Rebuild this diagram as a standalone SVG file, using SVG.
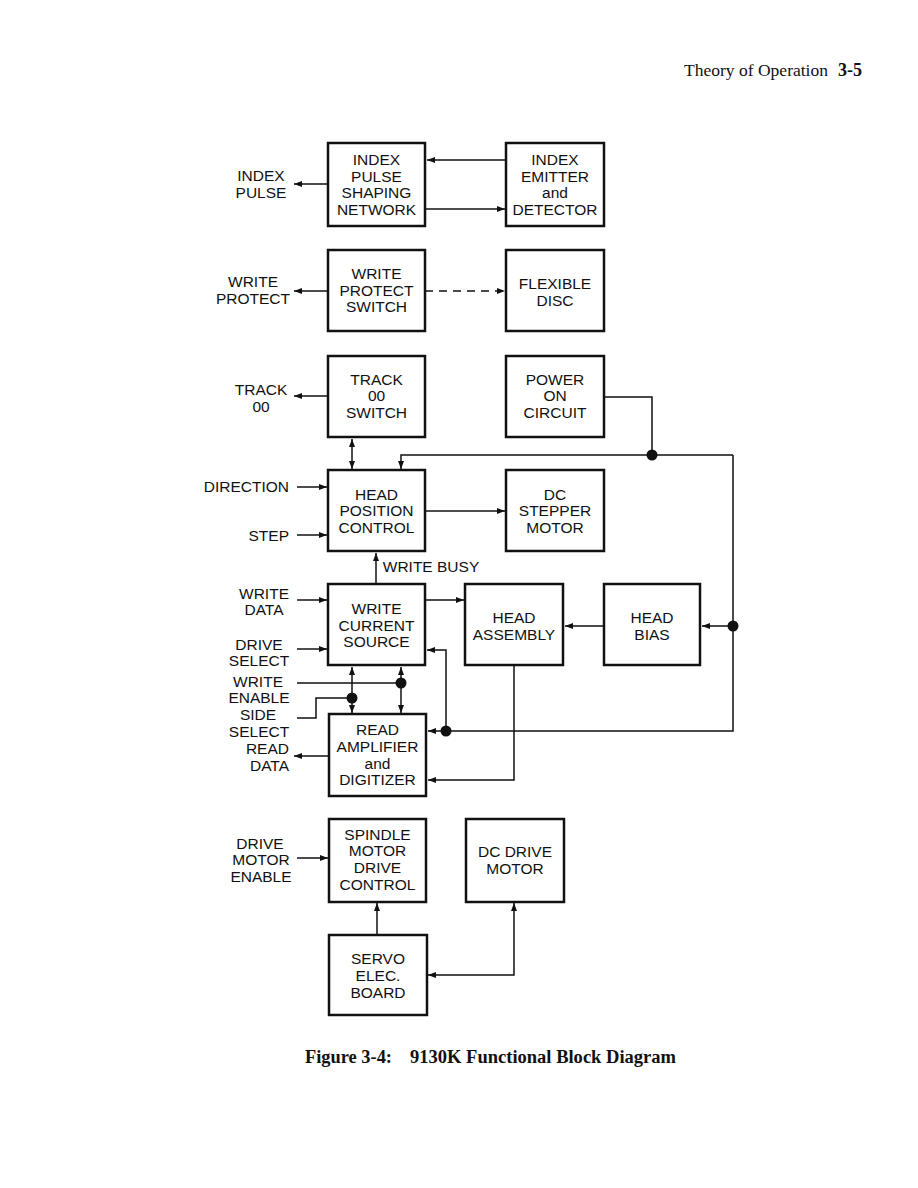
<svg xmlns="http://www.w3.org/2000/svg" width="918" height="1188" viewBox="0 0 918 1188">
<style>
.box{fill:#fff;stroke:#111;stroke-width:2.5}
.t{font-family:"Liberation Sans",Arial,sans-serif;font-size:15.5px;fill:#111;text-anchor:middle}
.lbl{font-family:"Liberation Sans",Arial,sans-serif;font-size:15.5px;fill:#111;text-anchor:middle}
.lr{font-family:"Liberation Sans",Arial,sans-serif;font-size:15.5px;fill:#111;text-anchor:end}
.c{fill:none;stroke:#111;stroke-width:1.5}
.a{marker-end:url(#ah)}
.b{marker-start:url(#ah);marker-end:url(#ah)}
.dot{fill:#111}
</style>
<defs>
<marker id="ah" markerUnits="userSpaceOnUse" markerWidth="9" markerHeight="6" refX="8" refY="3" orient="auto-start-reverse">
<path d="M0,0 L8,3 L0,6 z" fill="#111"/>
</marker>
</defs>
<rect width="918" height="1188" fill="#fff"/>
<g id="header">
<text x="684" y="76" font-family="Liberation Serif,serif" font-size="17" fill="#111" textLength="144" lengthAdjust="spacingAndGlyphs">Theory of Operation</text>
<text x="838" y="76" font-family="Liberation Serif,serif" font-size="18" font-weight="bold" fill="#111">3-5</text>
</g>
<g id="connectors">
<path class="c a" d="M506,160 H427"/>
<path class="c a" d="M425,209 H505"/>
<path class="c a" d="M328,184 H294"/>
<path class="c a" d="M328,291 H294"/>
<path class="c a" d="M425,291 H505" stroke-dasharray="8,6"/>
<path class="c a" d="M328,396 H294"/>
<path class="c b" d="M352,439 V469"/>
<path class="c" d="M604,397 H652 V455"/>
<path class="c a" d="M733,455 H401 V469"/>
<path class="c a" d="M733,455 V731 H428"/>
<path class="c a" d="M733,626 H702"/>
<path class="c a" d="M604,626 H565"/>
<path class="c a" d="M297,487 H327"/>
<path class="c a" d="M297,535 H327"/>
<path class="c a" d="M425,511 H505"/>
<path class="c a" d="M376,584 V553"/>
<path class="c a" d="M297,600 H327"/>
<path class="c a" d="M297,649 H327"/>
<path class="c a" d="M425,600 H464"/>
<path class="c a" d="M446,731 V650 H427"/>
<path class="c a" d="M514,665 V780 H428"/>
<path class="c" d="M297,683 H401"/>
<path class="c b" d="M401,667 V713"/>
<path class="c" d="M297,718 H316 V698 H352"/>
<path class="c b" d="M352,667 V713"/>
<path class="c a" d="M329,756 H294"/>
<path class="c a" d="M297,858 H328"/>
<path class="c a" d="M377,934 V903"/>
<path class="c b" d="M514,903 V975 H428"/>
<circle class="dot" cx="652" cy="455" r="5.5"/>
<circle class="dot" cx="733" cy="626" r="5.5"/>
<circle class="dot" cx="401" cy="683" r="5.5"/>
<circle class="dot" cx="352" cy="698" r="5.5"/>
<circle class="dot" cx="446" cy="731" r="5.5"/>
</g>
<g id="labels">
<text class="lbl" x="261" y="181">INDEX</text>
<text class="lbl" x="261" y="198">PULSE</text>
<text class="lbl" x="253" y="287">WRITE</text>
<text class="lbl" x="253" y="304">PROTECT</text>
<text class="lbl" x="261" y="395">TRACK</text>
<text class="lbl" x="261" y="412">00</text>
<text class="lr" x="289" y="492">DIRECTION</text>
<text class="lr" x="289" y="541">STEP</text>
<text class="lbl" x="264" y="599">WRITE</text>
<text class="lbl" x="264" y="615">DATA</text>
<text class="lbl" x="259" y="650">DRIVE</text>
<text class="lbl" x="259" y="666">SELECT</text>
<text class="lbl" x="258" y="687">WRITE</text>
<text class="lbl" x="259" y="703">ENABLE</text>
<text class="lbl" x="258" y="720">SIDE</text>
<text class="lbl" x="259" y="737">SELECT</text>
<text class="lr" x="289" y="754">READ</text>
<text class="lr" x="289" y="771">DATA</text>
<text class="lbl" x="260" y="849">DRIVE</text>
<text class="lbl" x="261" y="865">MOTOR</text>
<text class="lbl" x="261" y="882">ENABLE</text>
<text class="t" x="431" y="572">WRITE BUSY</text>
</g>
<g id="n_index_pulse">
<rect class="box" x="328" y="143" width="97" height="83"/>
<text class="t" x="376.5" y="165">INDEX</text>
<text class="t" x="376.5" y="182">PULSE</text>
<text class="t" x="376.5" y="198">SHAPING</text>
<text class="t" x="376.5" y="215">NETWORK</text>
</g>
<g id="n_index_emitter">
<rect class="box" x="506" y="143" width="98" height="83"/>
<text class="t" x="555" y="165">INDEX</text>
<text class="t" x="555" y="182">EMITTER</text>
<text class="t" x="555" y="198">and</text>
<text class="t" x="555" y="215">DETECTOR</text>
</g>
<g id="n_write_protect">
<rect class="box" x="328" y="250" width="97" height="81"/>
<text class="t" x="376.5" y="279">WRITE</text>
<text class="t" x="376.5" y="296">PROTECT</text>
<text class="t" x="376.5" y="312">SWITCH</text>
</g>
<g id="n_flexible_disc">
<rect class="box" x="506" y="250" width="98" height="81"/>
<text class="t" x="555" y="289">FLEXIBLE</text>
<text class="t" x="555" y="306">DISC</text>
</g>
<g id="n_track00">
<rect class="box" x="328" y="356" width="97" height="81"/>
<text class="t" x="376.5" y="385">TRACK</text>
<text class="t" x="376.5" y="401">00</text>
<text class="t" x="376.5" y="418">SWITCH</text>
</g>
<g id="n_power_on">
<rect class="box" x="506" y="356" width="98" height="81"/>
<text class="t" x="555" y="385">POWER</text>
<text class="t" x="555" y="401">ON</text>
<text class="t" x="555" y="418">CIRCUIT</text>
</g>
<g id="n_head_position">
<rect class="box" x="328" y="470" width="97" height="81"/>
<text class="t" x="376.5" y="500">HEAD</text>
<text class="t" x="376.5" y="516">POSITION</text>
<text class="t" x="376.5" y="533">CONTROL</text>
</g>
<g id="n_dc_stepper">
<rect class="box" x="506" y="470" width="98" height="81"/>
<text class="t" x="555" y="500">DC</text>
<text class="t" x="555" y="516">STEPPER</text>
<text class="t" x="555" y="533">MOTOR</text>
</g>
<g id="n_write_current">
<rect class="box" x="328" y="584" width="97" height="81"/>
<text class="t" x="376.5" y="614">WRITE</text>
<text class="t" x="376.5" y="631">CURRENT</text>
<text class="t" x="376.5" y="647">SOURCE</text>
</g>
<g id="n_head_assembly">
<rect class="box" x="465" y="584" width="98" height="81"/>
<text class="t" x="514" y="623">HEAD</text>
<text class="t" x="514" y="640">ASSEMBLY</text>
</g>
<g id="n_head_bias">
<rect class="box" x="604" y="584" width="96" height="81"/>
<text class="t" x="652" y="623">HEAD</text>
<text class="t" x="652" y="640">BIAS</text>
</g>
<g id="n_read_amp">
<rect class="box" x="329" y="714" width="97" height="82"/>
<text class="t" x="377.5" y="735">READ</text>
<text class="t" x="377.5" y="752">AMPLIFIER</text>
<text class="t" x="377.5" y="769">and</text>
<text class="t" x="377.5" y="785">DIGITIZER</text>
</g>
<g id="n_spindle">
<rect class="box" x="329" y="819" width="97" height="83"/>
<text class="t" x="377.5" y="840">SPINDLE</text>
<text class="t" x="377.5" y="856">MOTOR</text>
<text class="t" x="377.5" y="873">DRIVE</text>
<text class="t" x="377.5" y="890">CONTROL</text>
</g>
<g id="n_dc_drive">
<rect class="box" x="466" y="819" width="98" height="83"/>
<text class="t" x="515" y="857">DC DRIVE</text>
<text class="t" x="515" y="874">MOTOR</text>
</g>
<g id="n_servo">
<rect class="box" x="329" y="935" width="98" height="80"/>
<text class="t" x="378" y="964">SERVO</text>
<text class="t" x="378" y="981">ELEC.</text>
<text class="t" x="378" y="998">BOARD</text>
</g>
<g id="caption">
<text x="305" y="1063" font-family="Liberation Serif,serif" font-size="18" font-weight="bold" fill="#111" textLength="87" lengthAdjust="spacingAndGlyphs">Figure 3-4:</text>
<text x="410" y="1063" font-family="Liberation Serif,serif" font-size="18" font-weight="bold" fill="#111" textLength="266" lengthAdjust="spacingAndGlyphs">9130K Functional Block Diagram</text>
</g>
</svg>
